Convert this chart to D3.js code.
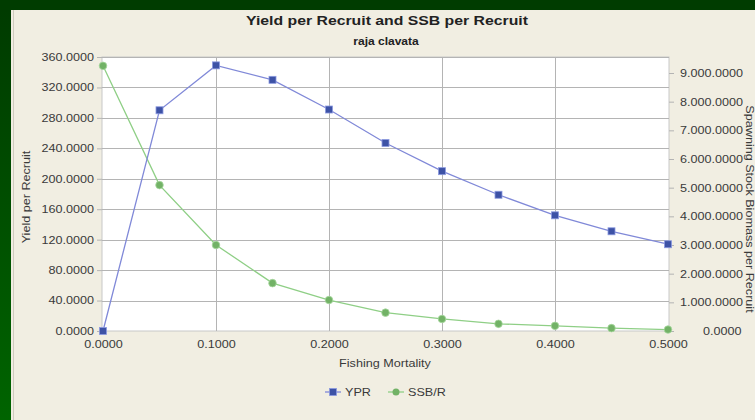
<!DOCTYPE html>
<html><head><meta charset="utf-8">
<script src="https://cdn.jsdelivr.net/npm/d3@7"></script>
<style>body{margin:0;background:#013f01;}svg{display:block;}</style>
</head><body>
<svg id="c" width="755" height="420"></svg>
<script>
const fishingMortality = [0, 0.05, 0.1, 0.15, 0.2, 0.25, 0.3, 0.35, 0.4, 0.45, 0.5];
const ypr = [0, 290, 349, 330, 291, 247, 210, 179, 152, 131, 114];
const ssbr = [9250, 5090, 3000, 1670, 1080, 640, 420, 250, 180, 100, 50];
const leftTicks = [0, 40, 80, 120, 160, 200, 240, 280, 320, 360];
const rightTicks = [0, 1000, 2000, 3000, 4000, 5000, 6000, 7000, 8000, 9000];
const xTicks = [0, 0.1, 0.2, 0.3, 0.4, 0.5];

const svg = d3.select("#c");
const defs = svg.append("defs");
const g1 = defs.append("linearGradient").attr("id","gb").attr("x1",0).attr("y1",0).attr("x2",0).attr("y2",1);
g1.append("stop").attr("offset","0").attr("stop-color","#003a00");
g1.append("stop").attr("offset","1").attr("stop-color","#006400");
svg.append("rect").attr("width",755).attr("height",420).attr("fill","url(#gb)");
svg.append("rect").attr("x",0).attr("y",0).attr("width",755).attr("height",10).attr("fill","#003c00");
svg.append("rect").attr("x",11).attr("y",10).attr("width",744).attr("height",410).attr("fill","#f1eee2");
svg.append("line").attr("x1",13.5).attr("x2",13.5).attr("y1",10).attr("y2",420).attr("stroke","#cfcbc0");

const L=103, R=668, T=57, B=331;
const x = d3.scaleLinear().domain([0,0.5]).range([L,R]);
const yL = d3.scaleLinear().domain([0,360]).range([B,T]);
const yR = d3.scaleLinear().domain([0,9000]).range([B,73]);

svg.append("rect").attr("x",L-1).attr("y",T).attr("width",R-L+2).attr("height",B-T).attr("fill","#ffffff").attr("stroke","#c8c8c8");

const font = "Liberation Sans, Arial, sans-serif";
// grid
svg.append("g").selectAll("line").data(leftTicks.slice(1)).join("line")
  .attr("x1",L-1).attr("x2",R+1).attr("y1",d=>Math.round(yL(d))+0.5).attr("y2",d=>Math.round(yL(d))+0.5)
  .attr("stroke","#b4b4b4");
svg.append("g").selectAll("line").data(xTicks.slice(1,-1)).join("line")
  .attr("x1",d=>Math.round(x(d))+0.5).attr("x2",d=>Math.round(x(d))+0.5).attr("y1",T).attr("y2",B)
  .attr("stroke","#b4b4b4");

const fmt4 = d3.format(".4f");
const ax = d3.axisLeft(yL).tickValues(leftTicks).tickFormat(fmt4).tickSize(5).tickPadding(3);
const gl = svg.append("g").attr("transform",`translate(${L-1},0)`).call(ax);
const axr = d3.axisRight(yR).tickValues(rightTicks).tickSize(5).tickPadding(6)
  .tickFormat(d => d3.format(",")(d).replace(/,/g,".") + ".0000");
const gr = svg.append("g").attr("transform",`translate(${R+1},0)`).call(axr);
const axb = d3.axisBottom(x).tickValues(xTicks).tickFormat(fmt4).tickSize(0).tickPadding(10);
const gb = svg.append("g").attr("transform",`translate(0,${B})`).call(axb);
[gl,gr,gb].forEach(g=>{
  g.select(".domain").remove();
  g.selectAll("line").attr("stroke","#b4b4b4");
  g.selectAll("text").attr("class","s").attr("font-family",font).attr("font-size",10.5).attr("fill","#3a3a3a");
});
gr.selectAll(".tick").filter(d=>d===0).select("text").attr("x",34);

const lineL = d3.line().x((d,i)=>x(fishingMortality[i])).y(d=>yL(d));
const lineR = d3.line().x((d,i)=>x(fishingMortality[i])).y(d=>yR(d));
svg.append("path").datum(ssbr).attr("d",lineR).attr("fill","none").attr("stroke","#8fcf86").attr("stroke-width",1.3);
svg.append("path").datum(ypr).attr("d",lineL).attr("fill","none").attr("stroke","#8089d8").attr("stroke-width",1.3);
svg.append("g").selectAll("circle").data(ssbr).join("circle")
  .attr("cx",(d,i)=>x(fishingMortality[i])).attr("cy",d=>yR(d)).attr("r",3.8)
  .attr("fill","#72b266").attr("stroke","#a8d8a0").attr("stroke-width",0.8);
svg.append("g").selectAll("rect").data(ypr).join("rect")
  .attr("x",(d,i)=>x(fishingMortality[i])-3.5).attr("y",d=>yL(d)-3.5).attr("width",7).attr("height",7)
  .attr("fill","#3d52a6").attr("stroke","#8c9ae0").attr("stroke-width",0.8);

svg.append("text").attr("x",387).attr("y",25).attr("text-anchor","middle").attr("font-family",font)
  .attr("font-weight","bold").attr("font-size",13).attr("fill","#222").attr("textLength",282).attr("lengthAdjust","spacingAndGlyphs")
  .text("Yield per Recruit and SSB per Recruit");
svg.append("text").attr("x",386).attr("y",45).attr("text-anchor","middle").attr("font-family",font)
  .attr("font-weight","bold").attr("font-size",10).attr("fill","#222").attr("class","s").text("raja clavata");
svg.append("text").attr("transform","translate(30,197) rotate(-90)").attr("text-anchor","middle").attr("class","s")
  .attr("font-family",font).attr("font-size",10.5).attr("fill","#3a3a3a").text("Yield per Recruit");
svg.append("text").attr("transform","translate(746,209) rotate(90)").attr("text-anchor","middle").attr("class","s")
  .attr("font-family",font).attr("font-size",10.5).attr("fill","#3a3a3a").text("Spawning Stock Biomass per Recruit");
svg.append("text").attr("x",385).attr("y",367).attr("text-anchor","middle").attr("font-family",font).attr("class","s")
  .attr("font-size",10.5).attr("fill","#3a3a3a").text("Fishing Mortality");

const leg = svg.append("g");
const items = [{name:"YPR",type:"sq",c:"#3d52a6",lc:"#8089d8",x:325},{name:"SSB/R",type:"ci",c:"#72b266",lc:"#8fcf86",x:388}];
items.forEach(it=>{
  leg.append("line").attr("x1",it.x).attr("x2",it.x+16).attr("y1",392).attr("y2",392).attr("stroke",it.lc).attr("stroke-width",1.3);
  if(it.type==="sq") leg.append("rect").attr("x",it.x+4.5).attr("y",388.5).attr("width",7).attr("height",7).attr("fill",it.c).attr("stroke","#8c9ae0").attr("stroke-width",0.8);
  else leg.append("circle").attr("cx",it.x+8).attr("cy",392).attr("r",3.5).attr("fill",it.c);
  leg.append("text").attr("x",it.x+20).attr("y",396).attr("font-family",font).attr("font-size",10.5).attr("class","s").attr("fill","#3a3a3a").text(it.name);
});
// the reference glyphs are wider than Liberation Sans at this size
svg.selectAll("text.s").each(function(){
  const w = this.getComputedTextLength();
  d3.select(this).attr("textLength", w*1.2).attr("lengthAdjust","spacingAndGlyphs");
});
</script>
</body></html>
